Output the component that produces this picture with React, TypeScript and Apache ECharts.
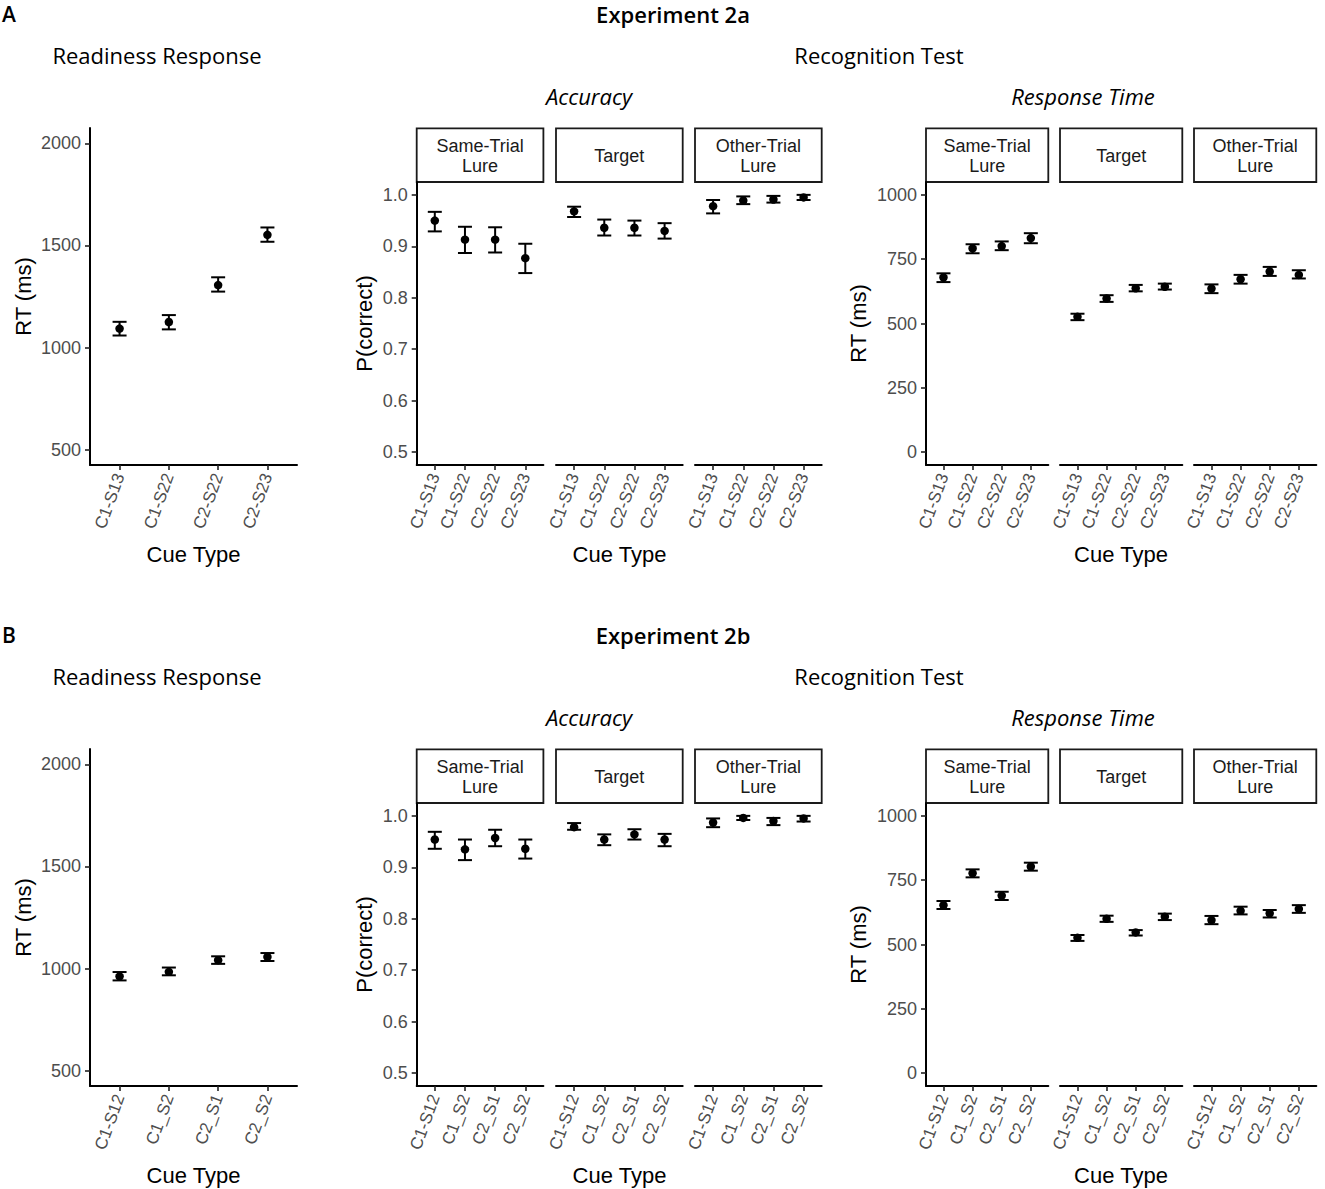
import React, { useEffect, useRef } from "react";
import * as echarts from "echarts";

// ---------------- DATA ----------------
const cuesA = ["C1-S13", "C1-S22", "C2-S22", "C2-S23"];
const cuesB = ["C1-S12", "C1_S2", "C2_S1", "C2_S2"];
const facetNames = ["Same-Trial\nLure", "Target", "Other-Trial\nLure"];

const readyTicks = [500, 1000, 1500, 2000];
const accTicks = [0.5, 0.6, 0.7, 0.8, 0.9, 1.0];
const rtTicks = [0, 250, 500, 750, 1000];

// Experiment 2a – readiness response RT (ms)
const readyMeanA = [1093, 1125, 1306, 1552];
const readyLoA = [1059, 1089, 1274, 1518];
const readyHiA = [1126, 1159, 1344, 1588];
// Experiment 2b – readiness response RT (ms)
const readyMeanB = [962, 984, 1041, 1057];
const readyLoB = [942, 967, 1023, 1037];
const readyHiB = [983, 1005, 1060, 1076];

// Experiment 2a – accuracy
const accSameMeanA = [0.95, 0.913, 0.913, 0.877];
const accSameLoA = [0.929, 0.887, 0.888, 0.848];
const accSameHiA = [0.967, 0.938, 0.937, 0.905];
const accTargetMeanA = [0.968, 0.936, 0.936, 0.93];
const accTargetLoA = [0.957, 0.921, 0.921, 0.915];
const accTargetHiA = [0.977, 0.952, 0.95, 0.945];
const accOtherMeanA = [0.978, 0.989, 0.991, 0.995];
const accOtherLoA = [0.964, 0.982, 0.985, 0.99];
const accOtherHiA = [0.99, 0.997, 0.998, 1.0];

// Experiment 2b – accuracy
const accSameMeanB = [0.954, 0.935, 0.957, 0.936];
const accSameLoB = [0.936, 0.914, 0.941, 0.917];
const accSameHiB = [0.969, 0.954, 0.973, 0.954];
const accTargetMeanB = [0.978, 0.954, 0.964, 0.954];
const accTargetLoB = [0.973, 0.943, 0.954, 0.941];
const accTargetHiB = [0.986, 0.964, 0.974, 0.965];
const accOtherMeanB = [0.987, 0.996, 0.99, 0.995];
const accOtherLoB = [0.978, 0.992, 0.982, 0.989];
const accOtherHiB = [0.995, 1.0, 0.996, 1.0];

// Experiment 2a – recognition RT (ms)
const rtSameMeanA = [679, 792, 801, 832];
const rtSameLoA = [661, 773, 785, 812];
const rtSameHiA = [695, 808, 819, 851];
const rtTargetMeanA = [526, 597, 637, 643];
const rtTargetLoA = [513, 584, 625, 632];
const rtTargetHiA = [538, 610, 650, 655];
const rtOtherMeanA = [636, 672, 702, 689];
const rtOtherLoA = [618, 655, 685, 675];
const rtOtherHiA = [652, 689, 720, 707];

// Experiment 2b – recognition RT (ms)
const rtSameMeanB = [653, 777, 690, 803];
const rtSameLoB = [638, 761, 673, 787];
const rtSameHiB = [669, 792, 705, 818];
const rtTargetMeanB = [526, 600, 547, 608];
const rtTargetLoB = [514, 588, 535, 595];
const rtTargetHiB = [537, 612, 556, 620];
const rtOtherMeanB = [595, 631, 621, 638];
const rtOtherLoB = [579, 617, 605, 623];
const rtOtherHiB = [611, 647, 634, 653];

// ---------------- LAYOUT ----------------
const W = 1325;
const H = 1189;
const ROW_DY = 621;
const TITLE_FONT = "'Open Sans', 'Noto Sans', sans-serif";
const AXIS_FONT = "'Liberation Sans', Arial, sans-serif";

type Panel = {
  left: number; top: number; width: number; height: number;
  cues: string[]; yMin: number; yMax: number; yTicks: number[];
  yFmt: (v: number) => string; showY: boolean;
  mean: number[]; lo: number[]; hi: number[];
};

function buildOption() {
  const rows = [
    {
      letter: "A", title: "Experiment 2a", dy: 0, cues: cuesA,
      ready: [readyMeanA, readyLoA, readyHiA],
      acc: [[accSameMeanA, accSameLoA, accSameHiA], [accTargetMeanA, accTargetLoA, accTargetHiA], [accOtherMeanA, accOtherLoA, accOtherHiA]],
      rt: [[rtSameMeanA, rtSameLoA, rtSameHiA], [rtTargetMeanA, rtTargetLoA, rtTargetHiA], [rtOtherMeanA, rtOtherLoA, rtOtherHiA]],
    },
    {
      letter: "B", title: "Experiment 2b", dy: ROW_DY, cues: cuesB,
      ready: [readyMeanB, readyLoB, readyHiB],
      acc: [[accSameMeanB, accSameLoB, accSameHiB], [accTargetMeanB, accTargetLoB, accTargetHiB], [accOtherMeanB, accOtherLoB, accOtherHiB]],
      rt: [[rtSameMeanB, rtSameLoB, rtSameHiB], [rtTargetMeanB, rtTargetLoB, rtTargetHiB], [rtOtherMeanB, rtOtherLoB, rtOtherHiB]],
    },
  ];

  const panels: Panel[] = [];
  const graphics: any[] = [];
  const accLefts = [416.7, 556, 695];
  const rtLefts = [926, 1060, 1194];
  const accW = 126.7;
  const rtW = 122.3;
  const facetTop = 182;
  const facetH = 283;
  const stripTop = 128.3;

  const txt = (x: number, y: number, text: string, extra: any = {}, rot = 0) => ({
    type: "text", x, y, rotation: rot, silent: true,
    style: {
      text, fill: "#000", fontSize: 22, fontFamily: TITLE_FONT,
      align: "center", verticalAlign: "middle", ...extra,
    },
  });

  rows.forEach((r) => {
    const dy = r.dy;
    // titles
    graphics.push(txt(9, 14 + dy, r.letter, { fontWeight: 600, fontSize: 21 }));
    graphics.push(txt(673, 14 + dy, r.title, { fontWeight: 600 }));
    graphics.push(txt(157, 55 + dy, "Readiness Response"));
    graphics.push(txt(879, 55 + dy, "Recognition Test"));
    graphics.push(txt(589, 96 + dy, "Accuracy", { fontStyle: "italic" }));
    graphics.push(txt(1083, 96 + dy, "Response Time", { fontStyle: "italic" }));

    // readiness panel
    panels.push({
      left: 90, top: 128 + dy, width: 207, height: 337, cues: r.cues,
      yMin: 425, yMax: 2075, yTicks: readyTicks, yFmt: (v) => String(v), showY: true,
      mean: r.ready[0], lo: r.ready[1], hi: r.ready[2],
    });
    graphics.push(txt(23, 296.5 + dy, "RT (ms)", { fontFamily: AXIS_FONT }, Math.PI / 2));
    graphics.push(txt(193.5, 554 + dy, "Cue Type", { fontFamily: AXIS_FONT }));

    // accuracy facets
    r.acc.forEach((d, i) => {
      panels.push({
        left: accLefts[i], top: facetTop + dy, width: accW, height: facetH, cues: r.cues,
        yMin: 0.475, yMax: 1.025, yTicks: accTicks, yFmt: (v) => v.toFixed(1), showY: i === 0,
        mean: d[0], lo: d[1], hi: d[2],
      });
    });
    graphics.push(txt(364, 323.5 + dy, "P(correct)", { fontFamily: AXIS_FONT }, Math.PI / 2));
    graphics.push(txt(619.5, 554 + dy, "Cue Type", { fontFamily: AXIS_FONT }));

    // RT facets
    r.rt.forEach((d, i) => {
      panels.push({
        left: rtLefts[i], top: facetTop + dy, width: rtW, height: facetH, cues: r.cues,
        yMin: -50, yMax: 1050, yTicks: rtTicks, yFmt: (v) => String(v), showY: i === 0,
        mean: d[0], lo: d[1], hi: d[2],
      });
    });
    graphics.push(txt(858, 323.5 + dy, "RT (ms)", { fontFamily: AXIS_FONT }, Math.PI / 2));
    graphics.push(txt(1121, 554 + dy, "Cue Type", { fontFamily: AXIS_FONT }));

    // strips
    const strip = (left: number, width: number, name: string) => {
      graphics.push({
        type: "rect", silent: true,
        shape: { x: left, y: stripTop + dy, width, height: facetTop - stripTop },
        style: { fill: "#fff", stroke: "#1a1a1a", lineWidth: 1.8 },
      });
      graphics.push(txt(left + width / 2, (stripTop + facetTop) / 2 + 1 + dy, name, {
        fontFamily: AXIS_FONT, fontSize: 18, lineHeight: 20, fill: "#1a1a1a",
      }));
    };
    accLefts.forEach((l, i) => strip(l, accW, facetNames[i]));
    rtLefts.forEach((l, i) => strip(l, rtW, facetNames[i]));
  });

  const grid: any[] = [];
  const xAxis: any[] = [];
  const yAxis: any[] = [];
  const series: any[] = [];

  panels.forEach((p, gi) => {
    grid.push({ left: p.left, top: p.top, width: p.width, height: p.height, containLabel: false, outerBoundsMode: "none" });
    xAxis.push({
      type: "value", gridIndex: gi, min: 0.4, max: 4.6,
      splitLine: { show: false },
      axisLine: { show: true, onZero: false, lineStyle: { color: "#000", width: 2 } },
      axisTick: { show: true, length: 5, customValues: [1, 2, 3, 4], lineStyle: { color: "#222", width: 1.6 } },
      axisLabel: {
        customValues: [1, 2, 3, 4],
        formatter: (v: number) => p.cues[Math.round(v) - 1] ?? "",
        rotate: 70, margin: 9, fontSize: 17, color: "#4d4d4d", fontFamily: AXIS_FONT,
      },
    });
    yAxis.push({
      type: "value", gridIndex: gi, min: p.yMin, max: p.yMax, show: p.showY,
      splitLine: { show: false },
      axisLine: { show: true, onZero: false, lineStyle: { color: "#000", width: 2 } },
      axisTick: { show: true, length: 5, customValues: p.yTicks, lineStyle: { color: "#222", width: 1.6 } },
      axisLabel: {
        customValues: p.yTicks, formatter: (v: number) => p.yFmt(v),
        margin: 9, fontSize: 18, color: "#4d4d4d", fontFamily: AXIS_FONT,
      },
    });
    series.push({
      type: "custom", xAxisIndex: gi, yAxisIndex: gi, clip: false, silent: true,
      data: p.mean.map((m, i) => [i + 1, m, p.lo[i], p.hi[i]]),
      encode: { x: 0, y: [1, 2, 3] },
      renderItem: (_params: any, api: any) => {
        const x = api.value(0);
        const a = api.coord([x, api.value(2)]);
        const b = api.coord([x, api.value(3)]);
        const hw = 7;
        const st = { stroke: "#000", lineWidth: 2 };
        return {
          type: "group",
          children: [
            { type: "line", shape: { x1: a[0], y1: a[1], x2: b[0], y2: b[1] }, style: st },
            { type: "line", shape: { x1: a[0] - hw, y1: a[1], x2: a[0] + hw, y2: a[1] }, style: st },
            { type: "line", shape: { x1: b[0] - hw, y1: b[1], x2: b[0] + hw, y2: b[1] }, style: st },
          ],
        };
      },
    });
    series.push({
      type: "scatter", xAxisIndex: gi, yAxisIndex: gi, silent: true,
      symbol: "circle", symbolSize: 8.5, itemStyle: { color: "#000", opacity: 1 },
      data: p.mean.map((m, i) => [i + 1, m]),
    });
  });

  return {
    animation: false,
    backgroundColor: "#fff",
    grid, xAxis, yAxis, series,
    graphic: { elements: graphics },
  };
}

export default function App() {
  const ref = useRef<HTMLDivElement>(null);
  useEffect(() => {
    if (!ref.current) return;
    const chart = echarts.init(ref.current, null, { renderer: "svg" });
    chart.setOption(buildOption() as any);
    return () => chart.dispose();
  }, []);
  return (
    <div
      ref={ref}
      style={{ position: "absolute", left: 0, top: 0, width: W, height: H, background: "#fff" }}
    />
  );
}
